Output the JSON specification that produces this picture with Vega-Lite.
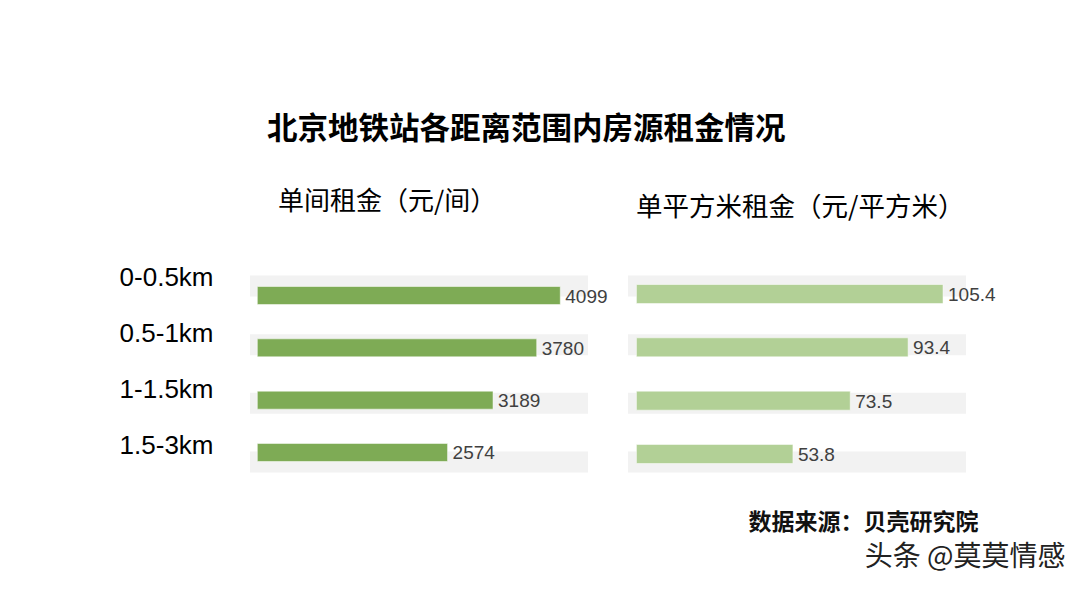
{
  "$schema": "https://vega.github.io/schema/vega-lite/v6.json",
  "background": "white",
  "padding": {"left": 119, "top": 115, "right": 5, "bottom": 5},
  "title": {
    "text": "北京地铁站各距离范围内房源租金情况",
    "font": "Noto Sans CJK SC",
    "fontSize": 30.5,
    "fontWeight": "bold",
    "color": "#000000",
    "anchor": "start",
    "frame": "group",
    "dx": 17,
    "offset": 43.5
  },
  "data": {
    "values": [
      {"range": "0-0.5km", "per_room": 4099, "per_sqm": 105.4},
      {"range": "0.5-1km", "per_room": 3780, "per_sqm": 93.4},
      {"range": "1-1.5km", "per_room": 3189, "per_sqm": 73.5},
      {"range": "1.5-3km", "per_room": 2574, "per_sqm": 53.8}
    ]
  },
  "spacing": 40,
  "bounds": "flush",
  "hconcat": [
    {
      "width": 338,
      "height": 220,
      "title": {
        "text": "单间租金（元/间）",
        "font": "Noto Sans CJK SC",
        "fontSize": 26,
        "fontWeight": "normal",
        "color": "#000000",
        "anchor": "start",
        "frame": "group",
        "dx": 28,
        "offset": 49
      },
      "layer": [
        {
          "mark": {"type": "rect", "opacity": 0},
          "encoding": {
            "y": {
              "field": "range", "type": "nominal", "sort": null,
              "scale": {"type": "band", "paddingInner": 0.5, "paddingOuter": 0.2143, "align": 0},
              "axis": {
                "orient": "left", "title": null, "domain": false, "ticks": false, "tickSize": 0,
                "labelPadding": 37, "labelFontSize": 26, "labelFont": "Liberation Sans",
                "labelColor": "#000000", "grid": false
              }
            },
            "x": {"value": 0},
            "x2": {"value": 1}
          }
        },
        {
          "mark": {"type": "rect", "color": "#f2f2f2"},
          "encoding": {
            "y": {
              "field": "range", "type": "nominal", "sort": null,
              "scale": {"type": "band", "paddingInner": 0.6422, "paddingOuter": 0.1951},
              "axis": null
            },
            "x": {"value": 0},
            "x2": {"value": "width"}
          }
        },
        {
          "encoding": {
            "y": {
              "field": "range", "type": "nominal", "sort": null,
              "scale": {"type": "band", "paddingInner": 0.656, "paddingOuter": 0.43},
              "axis": null
            },
            "x": {
              "field": "per_room", "type": "quantitative",
              "scale": {"domain": [-99, 4474], "nice": false, "zero": false},
              "axis": {
                "domain": false, "ticks": false, "labels": false, "grid": false,
                "title": "头条 @莫莫情感",
                "titleFont": "Noto Sans CJK SC", "titleFontSize": 28, "titleFontWeight": "normal",
                "titleColor": "#222222", "titleAlign": "right", "titleBaseline": "middle",
                "titleX": 815, "titleY": 73.5
              }
            }
          },
          "layer": [
            {"mark": {"type": "bar", "color": "#7eab55", "stroke": "#ffffff", "strokeOpacity": 0.5, "strokeWidth": 1}},
            {
              "mark": {"type": "text", "align": "left", "baseline": "middle", "dx": 5, "dy": 1, "font": "Liberation Sans", "fontSize": 19, "color": "#404040"},
              "encoding": {"text": {"field": "per_room", "type": "quantitative", "format": "d"}}
            }
          ]
        }
      ],
      "resolve": {"scale": {"y": "independent"}}
    },
    {
      "width": 338,
      "height": 220,
      "title": {
        "text": "单平方米租金（元/平方米）",
        "font": "Noto Sans CJK SC",
        "fontSize": 26.5,
        "fontWeight": "normal",
        "color": "#000000",
        "anchor": "start",
        "frame": "group",
        "dx": 8,
        "offset": 43
      },
      "layer": [
        {
          "mark": {"type": "rect", "color": "#f2f2f2"},
          "encoding": {
            "y": {
              "field": "range", "type": "nominal", "sort": null,
              "scale": {"type": "band", "paddingInner": 0.6422, "paddingOuter": 0.1951},
              "axis": null
            },
            "x": {"value": 0},
            "x2": {"value": "width"}
          }
        },
        {
          "encoding": {
            "y": {
              "field": "range", "type": "nominal", "sort": null,
              "scale": {"type": "band", "paddingInner": 0.6437, "paddingOuter": 0.3845},
              "axis": null
            },
            "x": {
              "field": "per_sqm", "type": "quantitative",
              "scale": {"domain": [-2.9, 113.3], "nice": false, "zero": false},
              "axis": {
                "domain": false, "ticks": false, "labels": false, "grid": false,
                "title": "数据来源：贝壳研究院",
                "titleFont": "Noto Sans CJK SC", "titleFontSize": 23, "titleFontWeight": "bold",
                "titleColor": "#111111", "titleAlign": "right", "titleBaseline": "middle",
                "titleX": 350, "titleY": 38.5
              }
            }
          },
          "layer": [
            {"mark": {"type": "bar", "color": "#b2d096", "stroke": "#ffffff", "strokeOpacity": 0.5, "strokeWidth": 1}},
            {
              "mark": {"type": "text", "align": "left", "baseline": "middle", "dx": 5, "dy": 1, "font": "Liberation Sans", "fontSize": 19, "color": "#404040"},
              "encoding": {"text": {"field": "per_sqm", "type": "quantitative", "format": ".1f"}}
            }
          ]
        }
      ],
      "resolve": {"scale": {"y": "independent"}}
    }
  ],
  "config": {
    "view": {"stroke": null},
    "font": "Liberation Sans"
  }
}
